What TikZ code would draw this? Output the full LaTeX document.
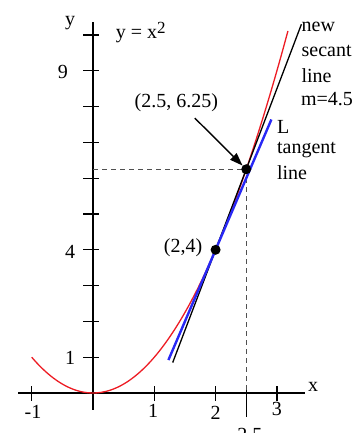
\documentclass[tikz,border=0pt]{standalone}
\usepackage{fontspec}
\setmainfont{Liberation Serif}
\usetikzlibrary{arrows.meta,calc}
\definecolor{curve_color}{RGB}{237,28,36}
\definecolor{tangent_color}{RGB}{40,40,245}
\definecolor{guide_color}{RGB}{80,80,80}
\tikzset{
  axis/.style={line width=1.2pt, black},
  tick/.style={line width=1.2pt, black},
  lbl/.style={font=\fontsize{20}{22}\selectfont, inner sep=0pt},
  note/.style={lbl, anchor=west},
  parabola/.style={line width=1.3pt, curve_color},
  secant/.style={line width=1.3pt, black},
  tangent/.style={line width=2.4pt, tangent_color},
  guide/.style={line width=0.8pt, guide_color, dash pattern=on 5pt off 4pt},
  ptdot/.style={circle, fill=black, minimum size=10pt, inner sep=0pt},
  ptarrow/.style={-{Triangle[length=13pt,width=9pt]}, line width=1.4pt}
}

\begin{document}
\begin{tikzpicture}[x=61.3pt, y=35.8pt]
\useasboundingbox (-93pt,-40pt) rectangle (261pt,393pt);

% axes
\coordinate (xstart) at (-1.22,0);
\coordinate (xend) at (3.46,0);
\coordinate (ystart) at (0,-0.47);
\coordinate (yend) at (0,10.36);
\draw[axis] (xstart) -- (xend);
\draw[axis] (ystart) -- (yend);
\foreach \i in {1,...,10} {
  \draw[tick] (0,\i) ++(-10pt,0) -- ++(16pt,0);
}
\foreach \i in {-1,1,2,3} {
  \draw[tick] (\i,0) ++(0,7pt) -- ++(0,-15pt);
}
\draw[tick] (2.5,0) ++(0,8pt) -- ++(0,-32pt);

% axis labels
\node[lbl] (ylabel) at (-0.375,10.34) {y};
\node[lbl] (xlabel) at (3.59,0.17) {x};
\node[lbl] (eqlabel) at (0.78,10.06) {y = x\raisebox{0.55ex}{\fontsize{17}{17}\selectfont 2}};
\node[lbl] (ynine) at (-0.49,8.97) {9};
\node[lbl] (yfour) at (-0.375,3.94) {4};
\node[lbl] (yone) at (-0.375,0.98) {1};
\node[lbl] (xmone) at (-0.98,-0.53) {-1};
\node[lbl] (xone) at (0.98,-0.5) {1};
\node[lbl] (xtwo) at (2.0,-0.56) {2};
\node[lbl] (xthree) at (3.0,-0.45) {3};
\node[lbl] (xhalf) at (2.56,-1.17) {2.5};

% guides
\coordinate (yfoot) at (0,6.25);
\coordinate (xfoot) at (2.5,0);
\coordinate (ptBpos) at (2.5,6.25);
\draw[guide] (yfoot) -- (ptBpos);
\draw[guide] (ptBpos) -- (xfoot);

% curve and lines
\draw[parabola] plot[domain=-1:3.18, samples=60, smooth] (\x,{\x*\x});
\coordinate (secA) at (1.3,{4+4.5*(1.3-2)});
\coordinate (secB) at (3.4,{4+4.5*(3.4-2)});
\draw[secant] (secA) -- (secB);
\coordinate (tanA) at (1.23,{4+4*(1.23-2)});
\coordinate (tanB) at (2.91,{4+4*(2.91-2)});
\draw[tangent] (tanA) -- (tanB);

% points
\node[ptdot] (ptA) at (2,4) {};
\node[ptdot] (ptB) at (ptBpos) {};
\node[lbl] (ptAlabel) at (1.47,4.05) {(2,4)};
\node[lbl] (ptBlabel) at (1.36,8.1) {(2.5, 6.25)};
\coordinate (arrowtail) at (1.66,7.68);
\draw[ptarrow] (arrowtail) -- (ptB);

% notes
\node[note] (secnew) at (3.4,10.22) {new};
\node[note] (secname) at (3.4,9.55) {secant};
\node[note] (secline) at (3.4,8.86) {line};
\node[note] (secslope) at (3.39,8.22) {m=4.5};
\node[note] (tanL) at (3.0,7.43) {L};
\node[note] (tanname) at (3.0,6.79) {tangent};
\node[note] (tanline) at (3.0,6.15) {line};

\end{tikzpicture}
\end{document}
